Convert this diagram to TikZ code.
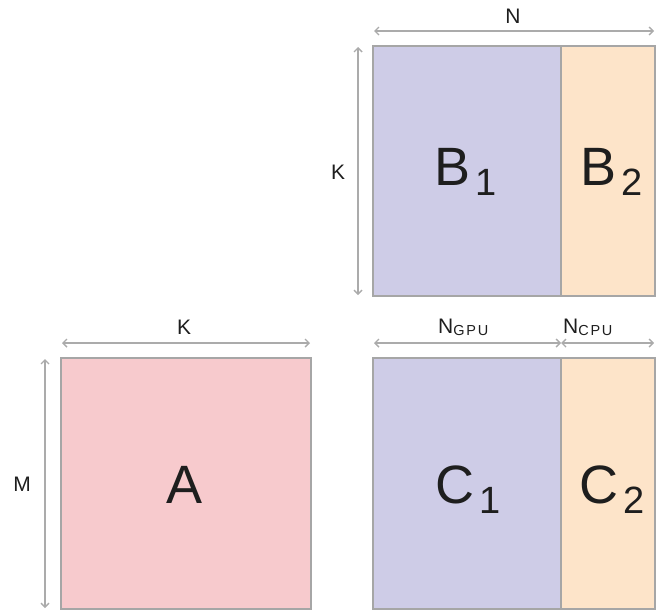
\documentclass[tikz,border=0pt]{standalone}
\usepackage{fontspec}
\setmainfont{Liberation Sans}
\usetikzlibrary{arrows.meta}
\definecolor{bordergray}{HTML}{A6A6A6}
\definecolor{arrowgray}{HTML}{ABABAB}
\definecolor{gpucol}{HTML}{CECCE7}
\definecolor{cpucol}{HTML}{FDE4C9}
\definecolor{acol}{HTML}{F7CACD}
\definecolor{txt}{HTML}{1E1E1E}
\newcommand{\bigsub}[2]{#1\hspace{5pt}\raisebox{-10pt}{\fontsize{38}{38}\selectfont #2}}
\newcommand{\smallsub}[2]{#1\raisebox{-2pt}{\fontsize{14.5}{14.5}\selectfont\addfontfeatures{LetterSpace=12}#2}}
\begin{document}
\begin{tikzpicture}[x=1pt,y=-1pt,
  block/.style={draw=bordergray,line width=1.6pt},
  dim/.style={draw=arrowgray,line width=1.4pt,{Straight Barb[length=4pt,width=8pt]}-{Straight Barb[length=4pt,width=8pt]}},
  biglabel/.style={text=txt,font=\fontsize{54}{54}\selectfont,anchor=base,inner sep=0pt},
  dimlabel/.style={text=txt,font=\fontsize{21}{21}\selectfont,inner sep=0pt}]
\useasboundingbox (0,0) rectangle (660,611);
% blocks
\path[block,fill=gpucol] (373,46) rectangle (561,296);
\path[block,fill=cpucol] (561,46) rectangle (655,296);
\path[block,fill=gpucol] (373,358) rectangle (561,609);
\path[block,fill=cpucol] (561,358) rectangle (655,609);
\path[block,fill=acol] (61,358) rectangle (311,609);
% labels
\node[biglabel] (B1) at (466,185) {\bigsub{B}{1}};
\node[biglabel] (B2) at (612,185) {\bigsub{B}{2}};
\node[biglabel] (C1) at (468,503) {\bigsub{C}{1}};
\node[biglabel] (C2) at (612,503) {\bigsub{C}{2}};
\node[biglabel] (A) at (185,503) {A};
% dimension coordinates
\coordinate (n1) at (374,31); \coordinate (n2) at (654,31);
\coordinate (k1) at (358,47); \coordinate (k2) at (358,295);
\coordinate (ka1) at (62,343); \coordinate (ka2) at (310,343);
\coordinate (m1) at (45,359); \coordinate (m2) at (45,608);
\coordinate (g1) at (374,343); \coordinate (g2) at (561,343);
\coordinate (c2) at (654,343);
\draw[dim] (n1) -- (n2);
\draw[dim] (k1) -- (k2);
\draw[dim] (ka1) -- (ka2);
\draw[dim] (m1) -- (m2);
\draw[dim] (g1) -- (g2);
\draw[dim] (g2) -- (c2);
% dim labels
\node[dimlabel,anchor=base] (lN) at (513,23) {N};
\node[dimlabel] (lK) at (338,172) {K};
\node[dimlabel,anchor=base] (lKa) at (184,334) {K};
\node[dimlabel] (lM) at (22,484) {M};
\node[dimlabel,anchor=base west] (lG) at (438,333) {\smallsub{N}{GPU}};
\node[dimlabel,anchor=base west] (lC) at (563,333) {\smallsub{N}{CPU}};
\end{tikzpicture}
\end{document}
